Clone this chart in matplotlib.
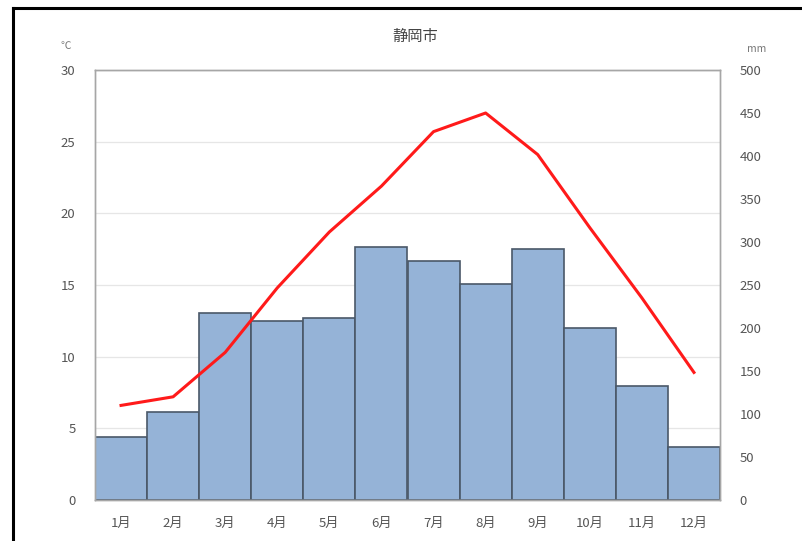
import matplotlib
matplotlib.use('Agg')
import matplotlib.pyplot as plt
from matplotlib.lines import Line2D

plt.rcParams['font.family'] = ['Noto Sans CJK JP', 'DejaVu Sans']

months = ['1月', '2月', '3月', '4月', '5月', '6月', '7月', '8月', '9月', '10月', '11月', '12月']
temperature = [6.6, 7.2, 10.3, 14.8, 18.7, 21.9, 25.7, 27.0, 24.1, 19.0, 14.1, 8.9]
precipitation = [73, 102, 217, 208, 212, 294, 278, 251, 292, 200, 133, 62]

W, H = 802, 541
fig = plt.figure(figsize=(W / 100, H / 100), dpi=100)
ax_t = fig.add_axes([95 / W, (H - 500) / H, (720 - 95) / W, (500 - 70) / H])
ax_p = ax_t.twinx()

# temperature axis (left) holds grid, precipitation bars on right axis
x = range(len(months))
ax_p.bar(x, precipitation, width=1.0, color='#95b3d7', edgecolor='#4a5868',
         linewidth=1.2, zorder=2)
ax_t.set_zorder(ax_p.get_zorder() + 1)
ax_t.patch.set_visible(False)
ax_t.plot(x, temperature, color='#ff1a1a', linewidth=2.2, zorder=3)

ax_t.set_xlim(-0.5, 11.5)
ax_t.set_ylim(0, 30)
ax_p.set_ylim(0, 500)
ax_t.set_yticks(range(0, 31, 5))
ax_p.set_yticks(range(0, 501, 50))
ax_t.set_xticks(list(x))
ax_t.set_xticklabels(months)

# horizontal gridlines drawn behind the bars
for v in range(5, 31, 5):
    ax_p.axhline(v / 30 * 500, color='#e6e6e6', linewidth=0.9, zorder=1)

tick_color = '#555555'
for a in (ax_t, ax_p):
    a.tick_params(length=0, colors=tick_color, labelsize=9.5)
    for s in a.spines.values():
        s.set_color('#a6a6a6')
        s.set_linewidth(1.0)
ax_t.tick_params(axis='y', pad=14)
ax_p.tick_params(axis='y', pad=14)
ax_t.tick_params(axis='x', pad=12)

fig.text(415 / W, 1 - 36 / H, '静岡市', ha='center', va='center',
         fontsize=11, color='#444444')
fig.text(66 / W, 1 - 46 / H, '℃', ha='center', va='center',
         fontsize=7.5, color='#777777')
fig.text(757 / W, 1 - 49 / H, 'mm', ha='center', va='center',
         fontsize=7.5, color='#777777')

# black frame on top and left edge
fig.add_artist(Line2D([13 / W, 1], [1 - 8 / H, 1 - 8 / H], color='black',
                      linewidth=2.2, transform=fig.transFigure))
fig.add_artist(Line2D([13 / W, 13 / W], [0, 1 - 8 / H], color='black',
                      linewidth=2.2, transform=fig.transFigure))

fig.savefig('out.png', dpi=100)
plt.close(fig)
